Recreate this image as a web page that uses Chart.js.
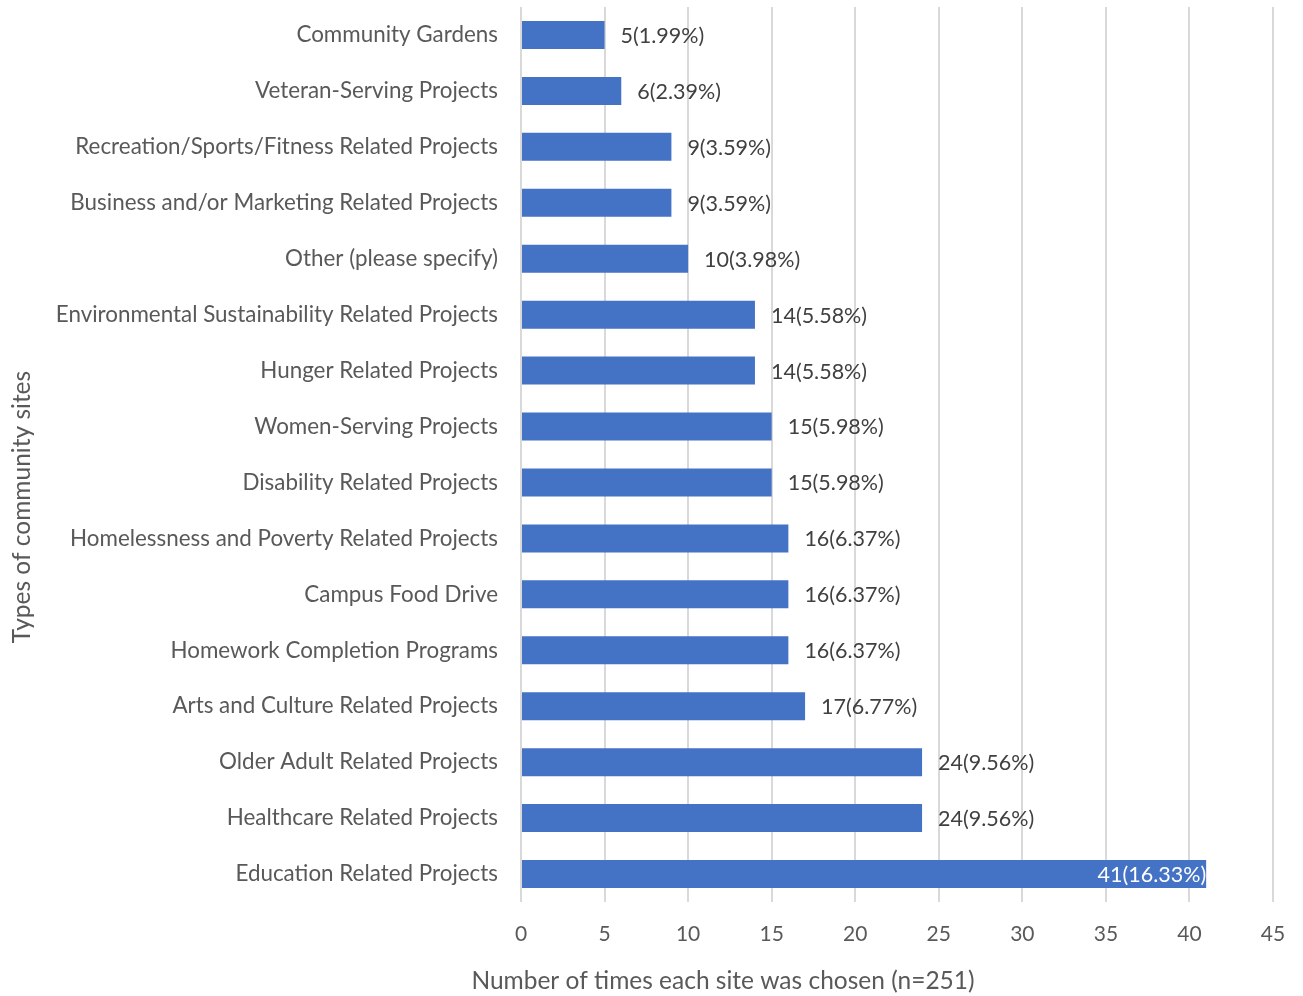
<!DOCTYPE html>
<html>
<head>
<meta charset="utf-8">
<script src="https://cdn.jsdelivr.net/npm/chart.js@4"></script>
<style>
html,body{margin:0;padding:0;background:#fff;}
#wrap{width:1303px;height:996px;position:relative;}
</style>
</head>
<body>
<div id="wrap"><canvas id="c" width="1303" height="996"></canvas></div>
<script>
const categories = [
  "Community Gardens",
  "Veteran-Serving Projects",
  "Recreation/Sports/Fitness Related Projects",
  "Business and/or Marketing Related Projects",
  "Other (please specify)",
  "Environmental Sustainability Related Projects",
  "Hunger Related Projects",
  "Women-Serving Projects",
  "Disability Related Projects",
  "Homelessness and Poverty Related Projects",
  "Campus Food Drive",
  "Homework Completion Programs",
  "Arts and Culture Related Projects",
  "Older Adult Related Projects",
  "Healthcare Related Projects",
  "Education Related Projects"
];
const counts = [5, 6, 9, 9, 10, 14, 14, 15, 15, 16, 16, 16, 17, 24, 24, 41];
const percents = ["1.99", "2.39", "3.59", "3.59", "3.98", "5.58", "5.58", "5.98", "5.98", "6.37", "6.37", "6.37", "6.77", "9.56", "9.56", "16.33"];
const xTicks = [0, 5, 10, 15, 20, 25, 30, 35, 40, 45];
const xTitle = "Number of times each site was chosen (n=251)";
const yTitle = "Types of community sites";

const FONT = "Lato, 'Open Sans', sans-serif";
const TXT = "#595959";

const labelPlugin = {
  id: 'barLabels',
  afterDatasetsDraw(chart) {
    const ctx = chart.ctx;
    const meta = chart.getDatasetMeta(0);
    const area = chart.chartArea;
    ctx.save();
    ctx.font = "21.5px " + FONT;
    ctx.textBaseline = "middle";
    meta.data.forEach((bar, i) => {
      const txt = counts[i] + "(" + percents[i] + "%)";
      const w = ctx.measureText(txt).width;
      if (bar.x + 16 + w > area.right + 20) {
        ctx.fillStyle = "#ffffff";
        ctx.textAlign = "right";
        ctx.fillText(txt, bar.x, bar.y + 1);
      } else {
        ctx.fillStyle = "#404040";
        ctx.textAlign = "left";
        ctx.fillText(txt, bar.x + 16, bar.y + 1);
      }
    });
    ctx.restore();
  },
  afterDraw(chart) {
    const ctx = chart.ctx;
    ctx.save();
    ctx.fillStyle = TXT;
    ctx.font = "24.5px " + FONT;
    ctx.textAlign = "center";
    ctx.textBaseline = "middle";
    ctx.fillText(xTitle, 723, 981);
    ctx.translate(22, 507);
    ctx.rotate(-Math.PI / 2);
    ctx.fillText(yTitle, 0, 0);
    ctx.restore();
  }
};

new Chart(document.getElementById('c'), {
  type: 'bar',
  data: {
    labels: categories,
    datasets: [{
      data: counts,
      backgroundColor: "#4472C4",
      borderWidth: 0,
      barPercentage: 0.5,
      categoryPercentage: 1.0
    }]
  },
  options: {
    indexAxis: 'y',
    responsive: false,
    animation: false,
    events: [],
    layout: { padding: { top: 7, right: 30, left: 0, bottom: 0 } },
    plugins: { legend: { display: false }, tooltip: { enabled: false } },
    scales: {
      x: {
        min: 0, max: 45,
        afterBuildTicks(scale) { scale.ticks = xTicks.map(v => ({ value: v })); },
        afterFit(scale) { scale.height = 94; scale.paddingLeft = 0; scale.paddingRight = 0; },
        grid: { color: "#d9d9d9", lineWidth: 2, drawTicks: false },
        border: { display: false },
        ticks: { color: TXT, font: { family: FONT, size: 21 }, padding: 20 },
        title: { display: false }
      },
      y: {
        afterFit(scale) { scale.width = 521; scale.paddingTop = 0; scale.paddingBottom = 0; },
        grid: { display: false, drawTicks: false },
        border: { display: false },
        ticks: { color: TXT, font: { family: FONT, size: 22.4 }, padding: 23 },
        title: { display: false }
      }
    }
  },
  plugins: [labelPlugin]
});
</script>
</body>
</html>
